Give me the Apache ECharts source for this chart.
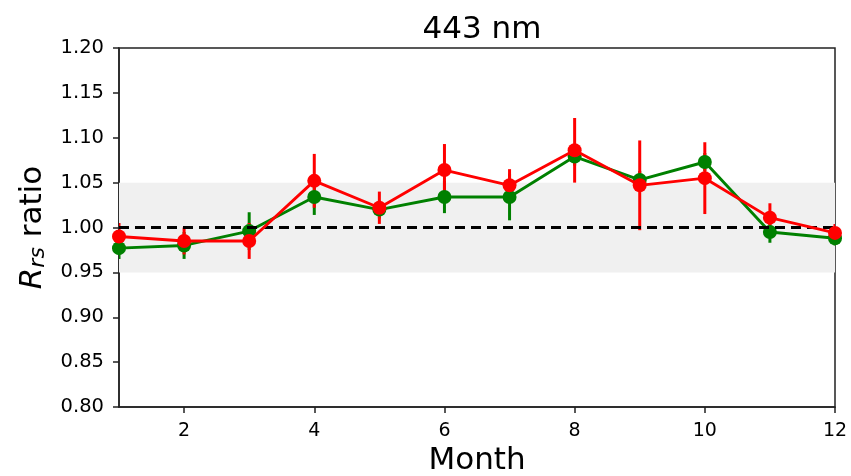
<!DOCTYPE html>
<html>
<head>
<meta charset="utf-8">
<script src="https://cdn.jsdelivr.net/npm/echarts@6/dist/echarts.min.js"></script>
<style>html,body{margin:0;padding:0;background:#fff}#c{width:851px;height:476px}</style>
</head>
<body>
<div id="c"></div>
<script>
const months = [1,2,3,4,5,6,7,8,9,10,11,12];
const redVals = [0.990,0.985,0.985,1.052,1.022,1.064,1.047,1.086,1.047,1.055,1.011,0.994];
const redErr  = [0.015,0.015,0.020,0.030,0.018,0.029,0.018,0.036,0.050,0.040,0.016,0.010];
const greenVals = [0.977,0.980,0.996,1.034,1.020,1.034,1.034,1.079,1.053,1.073,0.995,0.988];
const greenErr  = [0.012,0.015,0.021,0.020,0.010,0.018,0.026,0.010,0.010,0.010,0.012,0.008];
const xTickVals = [2,4,6,8,10,12];
const title = '443 nm';

const chart = echarts.init(document.getElementById('c'), null, {renderer:'canvas'});
const font = 'DejaVu Sans';
function errSeries(vals, errs, color) {
  return {
    type: 'custom',
    clip: true,
    z: 3,
    data: months.map((m,i) => [m, vals[i]-errs[i], vals[i]+errs[i]]),
    renderItem: function(params, api) {
      const a = api.coord([api.value(0), api.value(1)]);
      const b = api.coord([api.value(0), api.value(2)]);
      return {type:'line', shape:{x1:a[0], y1:a[1], x2:b[0], y2:b[1]}, style:{stroke:color, lineWidth:3}};
    }
  };
}
chart.setOption({
  animation: false,
  title: {text: title, left: 477, top: 9, textAlign: 'center', textStyle:{fontFamily:font, fontSize:31, fontWeight:'normal', color:'#000'}},
  grid: {left:119, right:16, top:48, bottom:69, outerBoundsMode:'none', containLabel:false, show:true, borderColor:'#222', borderWidth:1.5, backgroundColor:'transparent'},
  xAxis: {
    type:'value', min:1, max:12,
    name:'Month', nameLocation:'middle', nameGap:38,
    nameTextStyle:{fontFamily:font, fontSize:31, color:'#000'},
    axisLine:{show:true, lineStyle:{color:'#222', width:1.5}},
    axisTick:{show:true, customValues:xTickVals, length:6, lineStyle:{color:'#222', width:1.5}},
    axisLabel:{customValues:xTickVals, fontFamily:font, fontSize:19, color:'#000', margin:15},
    splitLine:{show:false}
  },
  yAxis: {
    type:'value', min:0.80, max:1.20, interval:0.05,
    name:'{i|R}{s|rs} ratio', nameLocation:'middle', nameGap:55, nameRotate:90,
    nameTextStyle:{fontFamily:font, fontSize:31, color:'#000',
      rich:{i:{fontFamily:font, fontSize:31, fontStyle:'italic', color:'#000'},
            s:{fontFamily:font, fontSize:22, fontStyle:'italic', color:'#000', verticalAlign:'bottom', padding:[12,0,0,0]}}},
    axisLine:{show:true, lineStyle:{color:'#222', width:1.5}},
    axisTick:{show:true, length:6, lineStyle:{color:'#222', width:1.5}},
    axisLabel:{fontFamily:font, fontSize:19.5, color:'#000', margin:15, formatter: v => v.toFixed(2)},
    splitLine:{show:false}
  },
  series: [
    {
      type:'line', data:[], silent:true, z:1,
      markArea:{silent:true, itemStyle:{color:'#f0f0f0'}, data:[[{yAxis:0.95},{yAxis:1.05}]]},
      markLine:{silent:true, symbol:'none', label:{show:false}, lineStyle:{color:'#000', type:[10,6], width:2.8}, data:[{yAxis:1.0}]}
    },
    errSeries(greenVals, greenErr, '#008000'),
    {
      type:'line', z:4, clip:true, data: months.map((m,i)=>[m, greenVals[i]]),
      symbol:'circle', symbolSize:14, color:'#008000',
      lineStyle:{color:'#008000', width:2.9}, itemStyle:{color:'#008000'}
    },
    errSeries(redVals, redErr, '#ff0000'),
    {
      type:'line', z:5, clip:true, data: months.map((m,i)=>[m, redVals[i]]),
      symbol:'circle', symbolSize:14, color:'#ff0000',
      lineStyle:{color:'#ff0000', width:2.9}, itemStyle:{color:'#ff0000'}
    }
  ]
});
</script>
</body>
</html>
